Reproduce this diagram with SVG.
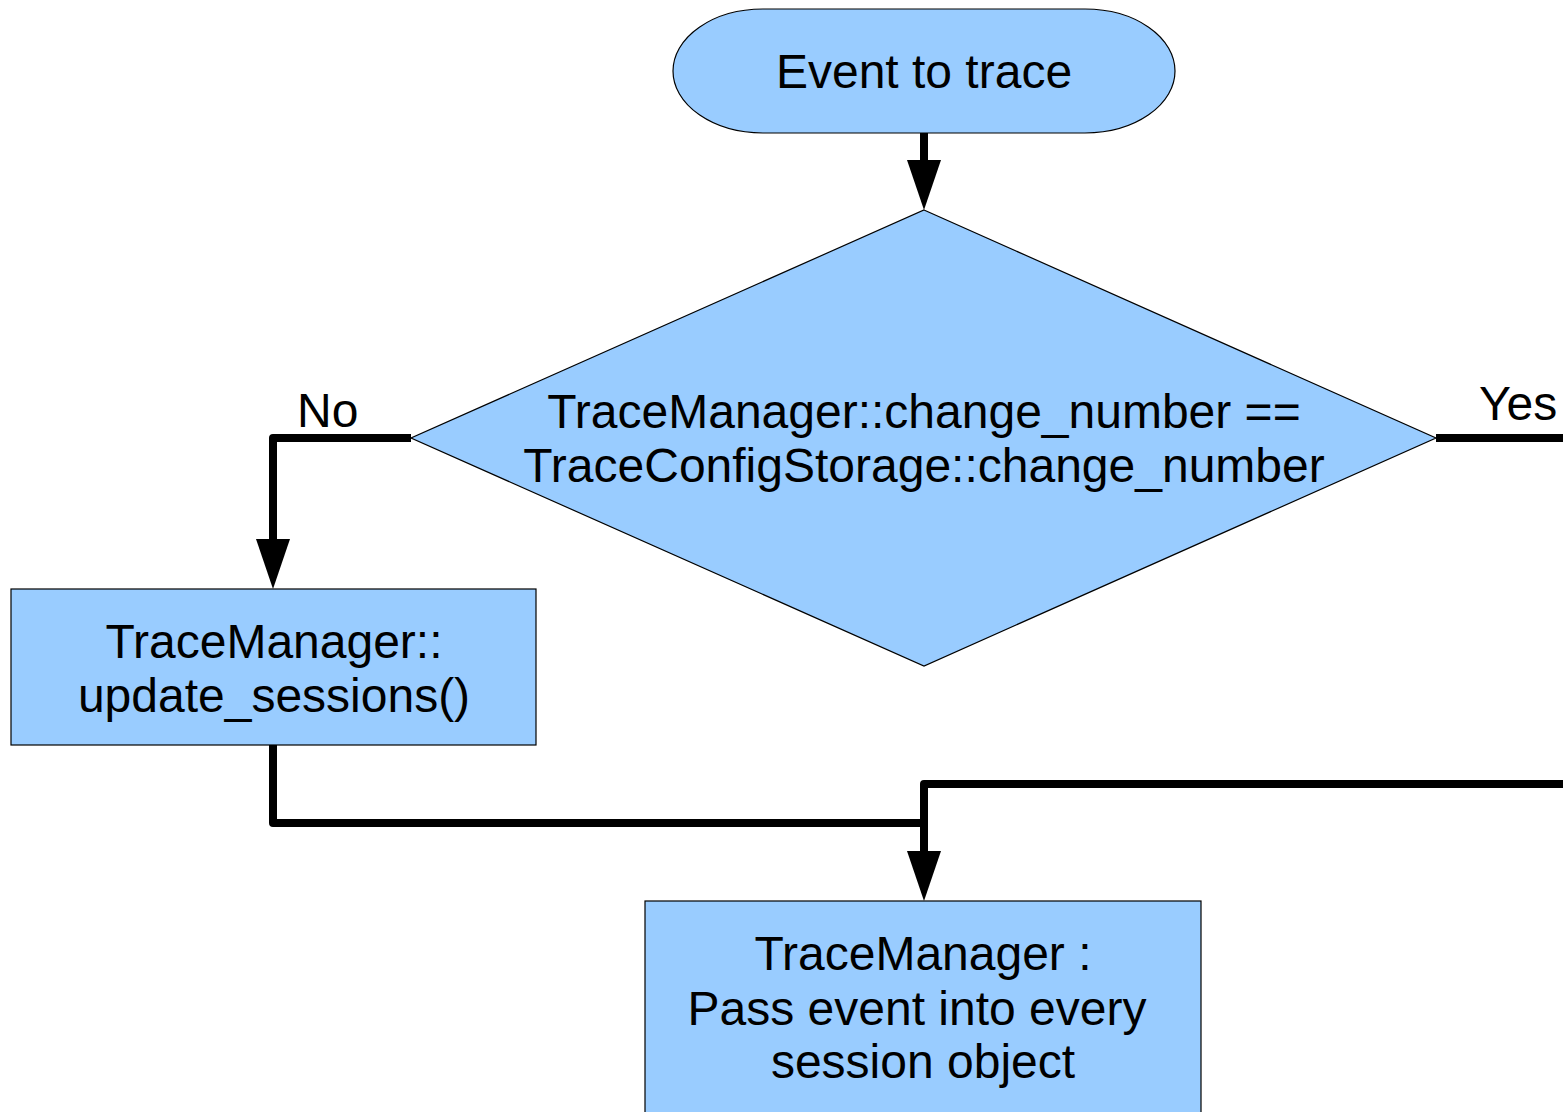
<svg xmlns="http://www.w3.org/2000/svg" width="1563" height="1112" viewBox="0 0 1563 1112">
  <style>
    .shape { fill: #99ccff; stroke: #000; stroke-width: 1.2; }
    .txt { font-family: "Liberation Sans", Arial, sans-serif; font-size: 48px; fill: #000; text-anchor: middle; }
    .lbl { font-family: "Liberation Sans", Arial, sans-serif; font-size: 48px; fill: #000; }
    .conn { fill: none; stroke: #000; stroke-width: 8; stroke-linejoin: round; }
    .head { fill: #000; stroke: none; }
  </style>
  <rect width="1563" height="1112" fill="#fff"/>
  <g id="connectors">
    <path class="conn" d="M924,133 V165"/>
    <polygon class="head" points="907,160 941,160 924,210"/>
    <path class="conn" d="M411,438 H273 V545"/>
    <polygon class="head" points="256,539 290,539 273,589"/>
    <path class="conn" d="M1436,438 H1570"/>
    <path class="conn" d="M273,745 V823 H924"/>
    <path class="conn" d="M1570,784 H924 V857"/>
    <polygon class="head" points="907,851 941,851 924,901"/>
    <text class="lbl" x="297" y="427">No</text>
    <text class="lbl" x="1479" y="420">Yes</text>
  </g>
  <g id="start">
    <rect class="shape" x="673" y="9" width="502" height="124" rx="90" ry="62"/>
    <text class="txt" x="924" y="88">Event to trace</text>
  </g>
  <g id="decision">
    <polygon class="shape" points="924,210 1436,438 924,666 411,438"/>
    <text class="txt" x="924" y="428">TraceManager::change_number ==</text>
    <text class="txt" x="924" y="482">TraceConfigStorage::change_number</text>
  </g>
  <g id="update">
    <rect class="shape" x="11" y="589" width="525" height="156"/>
    <text class="txt" x="274" y="658">TraceManager::</text>
    <text class="txt" x="274" y="712">update_sessions()</text>
  </g>
  <g id="pass">
    <rect class="shape" x="645" y="901" width="556" height="230"/>
    <text class="txt" x="923" y="970">TraceManager :</text>
    <text class="txt" x="917" y="1025">Pass event into every</text>
    <text class="txt" x="923" y="1078">session object</text>
  </g>
</svg>
